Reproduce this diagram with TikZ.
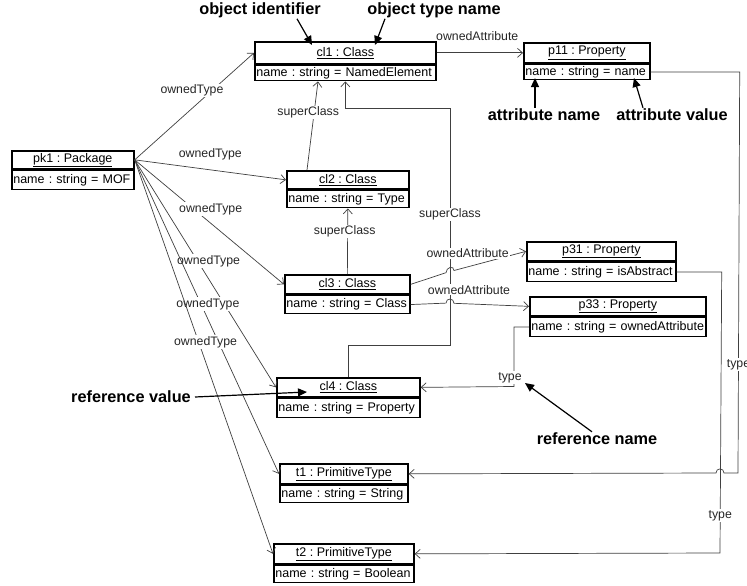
\documentclass[tikz,border=0pt]{standalone}
\usepackage{fontspec}
\setmainfont{Liberation Sans}
\usetikzlibrary{arrows.meta}

% UML object: header with underlined name, one attribute row below
\newcommand\umlobj[8]{%
  \node[objhead, minimum width=#4pt, minimum height=#5pt, anchor=north west] (#1h) at (#2,#3) {\underline{#7}};
  \node[objattr, text width=#4pt, minimum height=#6pt, anchor=north west] (#1a) at (#1h.south west) {\hspace*{1.5pt}#8};
}

\begin{document}
\frenchspacing
\begin{tikzpicture}[x=1pt,y=-1pt,
  box/.style={draw=black, line width=1.7pt, inner ysep=0pt, font=\fontsize{12.5}{14}\selectfont},
  objhead/.style={box, inner xsep=2pt, align=center},
  objattr/.style={box, inner xsep=0pt, align=left},
  conn/.style={draw=black!75, line width=0.7pt, -{Straight Barb[length=5pt,width=9pt]}},
  lbl/.style={fill=white, inner sep=1pt, text=black!85, font=\fontsize{12.3}{14}\selectfont},
  callout/.style={inner sep=1pt, font=\bfseries\fontsize{16.3}{18}\selectfont},
  pointer/.style={draw=black, line width=1.2pt, -{Triangle[length=9pt,width=8pt]}},
]
\useasboundingbox (0,0) rectangle (747,586);
\fill[white] (0,0) rectangle (747,586);
\clip (0,0) rectangle (747,586);

% objects
\umlobj{cl1}{254}{41}{181}{22}{15}{cl1 : Class}{name : string = NamedElement}
\umlobj{p11}{523}{42}{126}{20}{15}{p11 : Property}{name : string = name}
\umlobj{pk1}{11}{150}{122}{18}{19}{pk1 : Package}{name : string = MOF}
\umlobj{cl2}{286}{170}{122}{18}{17}{cl2 : Class}{name : string = Type}
\umlobj{cl3}{284}{274}{125}{19}{18}{cl3 : Class}{name : string = Class}
\umlobj{p31}{526}{241}{149}{19}{19}{p31 : Property}{name : string = isAbstract}
\umlobj{p33}{529}{296}{176}{19}{19}{p33 : Property}{name : string = ownedAttribute}
\umlobj{cl4}{276}{377}{143}{19}{19}{cl4 : Class}{name : string = Property}
\umlobj{t1}{279}{463}{128}{20}{17}{t1 : PrimitiveType}{name : string = String}
\umlobj{t2}{273}{543}{140}{20}{17}{t2 : PrimitiveType}{name : string = Boolean}

% ownedType links from the package
\draw[conn] (pk1h.east) -- node[lbl, pos=0.48, yshift=18pt]{ownedType} (cl1h.west);
\draw[conn] (pk1h.east) -- node[lbl, pos=0.5, yshift=16pt]{ownedType} (cl2h.west);
\draw[conn] (pk1h.east) -- node[lbl, pos=0.395, xshift=17pt]{ownedType} (cl3h.west);
\draw[conn] (pk1h.east) -- node[lbl, pos=0.445, xshift=11pt]{ownedType} (cl4h.west);
\draw[conn] (pk1h.east) -- node[lbl, pos=0.459, xshift=7pt]{ownedType} (t1h.west);
\draw[conn] (pk1h.east) -- node[lbl, pos=0.462, xshift=7pt]{ownedType} (t2h.west);

% superClass links
\draw[conn] ([xshift=21pt]cl2h.north west) -- node[lbl, pos=0.65, xshift=-6pt]{superClass} ([xshift=64pt]cl1a.south west);
\draw[conn] (cl3h.north) -- node[lbl, pos=0.65, xshift=-3pt]{superClass} (cl2a.south);
\draw[conn] (cl4h.north) |- (450,345) -- node[lbl, pos=0.55]{superClass} (450,108) -| (cl1a.south);

% ownedAttribute links (hopping over the superClass line)
\draw[conn] (cl1h.east) -- node[lbl, pos=0.47, yshift=17pt]{ownedAttribute} (p11h.west);
\draw[conn] (cl3h.east) -- (446,272.7) .. controls (446,267.2) and (454,265) .. (454,270.5)
  -- node[lbl, pos=0.19, yshift=13.6pt]{ownedAttribute} (p31h.west);
\draw[conn] (cl3a.east) -- (446,303.1) .. controls (446,297.6) and (454,297.8) .. (454,303.3)
  -- node[lbl, pos=0.2, yshift=14pt]{ownedAttribute} (p33h.west);

% type links
\draw[conn] (p33a.west) -- ++(-15,0) -- node[lbl, pos=0.85, xshift=-4pt]{type} (514,386.5) -- (cl4h.east);
\draw[conn] (p31a.east) -- ++(45,0) -- node[lbl, pos=0.866]{type} (720,553) -- (t2h.east);
\draw[conn] (p11a.east) -- ++(89,0) -- node[lbl, pos=0.73]{type} (738,473) -- (724,473)
  .. controls (724,467.5) and (716,467.5) .. (716,473) -- (t1h.east);

% callouts
\node[callout] (oid) at (260,10) {object identifier};
\node[callout] (otn) at (434,10) {object type name};
\node[callout] (an) at (544,115) {attribute name};
\node[callout] (av) at (672,115) {attribute value};
\node[callout] (rv) at (131,397) {reference value};
\node[callout] (rn) at (597,439) {reference name};

\coordinate (oidT) at (312,45);
\coordinate (otnT) at (375,45);
\coordinate (anT) at (535,78);
\coordinate (avT) at (634,78);
\coordinate (rvT) at (307,392);
\coordinate (rnT) at (525,383);

\draw[pointer] ([xshift=37pt]oid.south) -- (oidT);
\draw[pointer] ([xshift=-49pt]otn.south) -- (otnT);
\draw[pointer] ([xshift=-9pt]an.north) -- (anT);
\draw[pointer] ([xshift=-29pt]av.north) -- (avT);
\draw[pointer] ([xshift=3pt]rv.east) -- (rvT);
\draw[pointer] ([xshift=-5pt]rn.north) -- (rnT);
\end{tikzpicture}
\end{document}
